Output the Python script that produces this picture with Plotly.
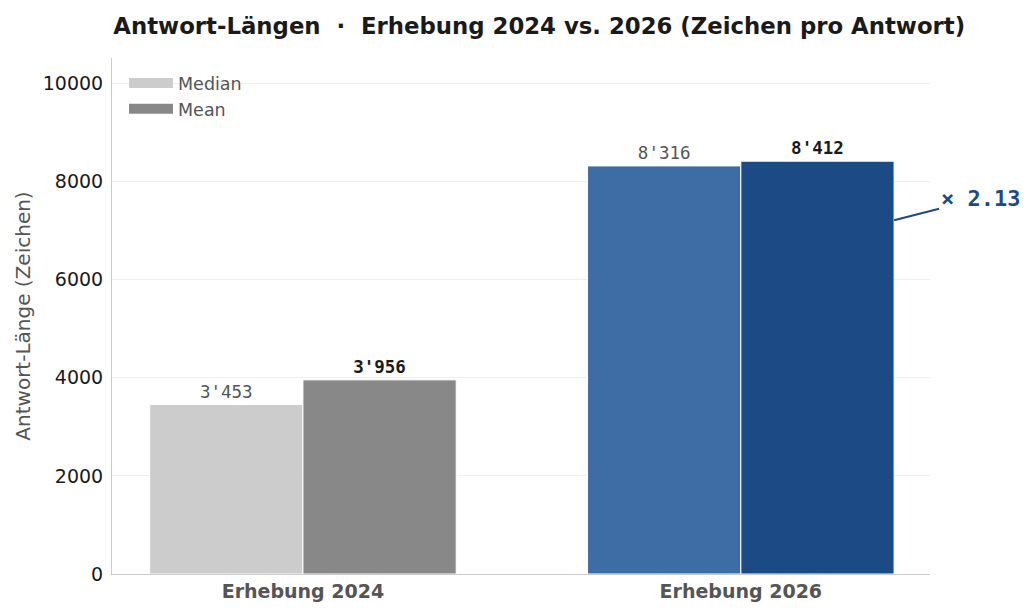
import plotly.graph_objects as go

categories = ["Erhebung 2024", "Erhebung 2026"]
median_vals = [3453, 8316]
mean_vals = [3956, 8412]
median_labels = ["3'453", "8'316"]
mean_labels = ["3'956", "8'412"]
ratio_label = "× 2.13"

median_colors = ["#cccccc", "#3e6da5"]
mean_colors = ["#888888", "#1b4a85"]

x_pos = [0, 1]
bw = 0.35

fig = go.Figure()
fig.add_trace(go.Bar(
    x=[p - bw / 2 for p in x_pos], y=median_vals, width=bw, name="Median",
    marker=dict(color=median_colors, line=dict(color="white", width=1)),
    text=median_labels, textposition="outside", cliponaxis=False, showlegend=False,
    textfont=dict(family="DejaVu Sans Mono", size=17.5, color="#555555"),
))
fig.add_trace(go.Bar(
    x=[p + bw / 2 for p in x_pos], y=mean_vals, width=bw, name="Mean",
    marker=dict(color=mean_colors, line=dict(color="white", width=1)),
    text=mean_labels, textposition="outside", cliponaxis=False, showlegend=False,
    textfont=dict(family="DejaVu Sans Mono", size=17.5, color="#1a1a1a", weight="bold"),
))
# legend entries (wide swatches)
fig.add_trace(go.Scatter(x=[None], y=[None], mode="lines", name="Median",
                         line=dict(color=median_colors[0], width=10)))
fig.add_trace(go.Scatter(x=[None], y=[None], mode="lines", name="Mean",
                         line=dict(color=mean_colors[0], width=10)))

# ratio annotation pointing at the right edge of the 2026 mean bar
fig.add_annotation(
    x=x_pos[1] + bw, y=7210, xref="x", yref="y",
    text="<b>" + ratio_label + "</b>", showarrow=True, arrowhead=0,
    arrowwidth=2, arrowcolor="#1b4a85", ax=86, ay=-22,
    font=dict(family="DejaVu Sans Mono", size=22, color="#1b4a85"),
)

fig.update_layout(
    width=1035, height=615,
    margin=dict(l=112, r=105, t=58, b=41),
    paper_bgcolor="white", plot_bgcolor="white",
    barmode="overlay",
    font=dict(family="DejaVu Sans", color="#222222"),
    title=dict(
        text="<b>Antwort-Längen  ·  Erhebung 2024 vs. 2026 (Zeichen pro Antwort)</b>",
        x=0.521, xanchor="center", y=0.958, yanchor="middle",
        font=dict(family="DejaVu Sans", size=22.8, color="#1a1a1a"),
    ),
    legend=dict(
        x=0.0147, y=0.986, xanchor="left", yanchor="top", itemwidth=44,
        bgcolor="rgba(0,0,0,0)", font=dict(size=17.5, color="#555555"),
        tracegroupgap=0,
    ),
    showlegend=True,
    xaxis=dict(
        tickmode="array", tickvals=x_pos,
        ticktext=["<b>" + c + "</b>" for c in categories],
        range=[-0.436, 1.432], showgrid=False,
        showline=True, linecolor="#cccccc", linewidth=1,
        tickfont=dict(size=19, color="#555555"), ticks="", zeroline=False,
    ),
    yaxis=dict(
        range=[0, 10515], tickvals=[0, 2000, 4000, 6000, 8000, 10000],
        tickformat="d", showgrid=True, gridcolor="#eeeeee", gridwidth=1,
        showline=True, linecolor="#cccccc", linewidth=1, zeroline=False,
        tickfont=dict(size=19, color="#1a1a1a"), ticklabelstandoff=4,
        title=dict(text="Antwort-Länge (Zeichen)", font=dict(size=20, color="#555555"), standoff=6),
    ),
)

fig.write_html("out.html")
